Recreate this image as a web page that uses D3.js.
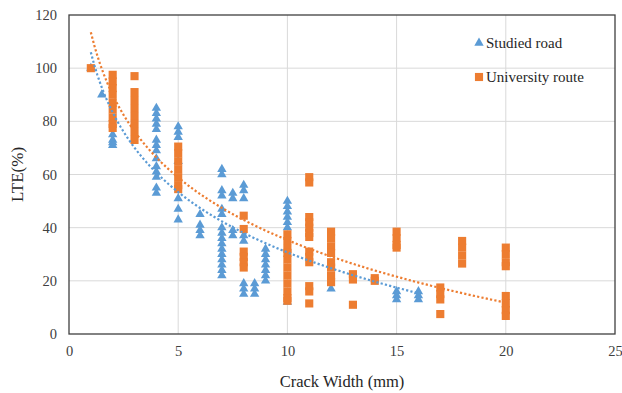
<!DOCTYPE html>
<html>
<head>
<meta charset="utf-8">
<script src="https://cdn.jsdelivr.net/npm/d3@7"></script>
<style>
  html, body { margin: 0; padding: 0; background: #ffffff; }
  svg { display: block; }
</style>
</head>
<body>
<svg id="chart" width="622" height="393"></svg>
<script>
// Load transfer efficiency (LTE, %) against crack width (mm)
const roadX = [
  1, 1.5,
  2, 2, 2, 2,
  4, 4, 4, 4, 4, 4, 4, 4, 4, 4, 4, 4, 4, 4,
  5, 5, 5, 5, 5, 5, 5,
  6, 6, 6, 6,
  7, 7, 7, 7, 7, 7, 7, 7, 7, 7, 7, 7, 7, 7, 7, 7,
  7.5, 7.5, 7.5, 7.5,
  8, 8, 8, 8, 8, 8, 8, 8,
  8.5, 8.5, 8.5,
  9, 9, 9, 9, 9, 9, 9,
  10, 10, 10, 10, 10, 10, 10,
  12,
  15, 15, 15,
  16, 16, 16
];
const roadY = [
  100, 90,
  75, 73, 72, 71,
  85, 83, 81, 79, 77, 73, 71, 69, 66, 63, 61, 59, 55, 53,
  78, 76, 74, 65, 51, 47, 43,
  45, 41, 39, 37,
  62, 60, 54, 52, 47, 45, 40, 38, 36, 34, 32, 30, 28, 26, 24, 22,
  53, 51, 39, 37,
  56, 54, 51, 37, 35, 19, 17, 15,
  19, 17, 15,
  32, 30, 28, 26, 24, 22, 20,
  50, 48, 46, 44, 42, 40, 12,
  17,
  16, 14.5, 13,
  16, 14.5, 13
];

const routeX = [
  1,
  2, 2, 2, 2, 2, 2, 2, 2, 2,
  3, 3, 3, 3, 3, 3, 3, 3,
  5, 5, 5, 5, 5, 5, 5,
  8, 8, 8, 8, 8, 8,
  10, 10, 10, 10, 10, 10, 10, 10, 10, 10, 10,
  11, 11, 11, 11, 11, 11, 11, 11, 11, 11, 11, 11, 11,
  12, 12, 12, 12, 12, 12, 12, 12,
  13, 13, 13,
  14, 14,
  15, 15, 15, 15,
  17, 17, 17, 17,
  18, 18, 18, 18,
  20, 20, 20, 20, 20, 20, 20, 20
];
const routeY = [
  100,
  97.5, 95, 92.5, 90, 87, 84.5, 81.5, 79, 77.5,
  97, 91, 88, 85, 82, 79, 76, 73,
  70.5, 68, 65, 62, 59, 56, 54.5,
  44.5, 39.5, 31, 29, 27, 25,
  37.5, 35, 32, 30.5, 28, 25, 22, 19, 16, 13.5, 12.5,
  59, 57, 44, 42, 40, 38, 36.5, 31, 29, 27, 18, 16, 11.5,
  38.5, 36, 33, 30.5, 27, 25, 22, 19.5,
  22.5, 20.5, 11,
  21, 20,
  38.5, 36, 33.5, 32.5,
  17.5, 15, 13, 7.5,
  35, 32.5, 29.5, 26.5,
  32.5, 30, 27, 25.5, 14.3, 11.5, 9, 6.8
];

// Logarithmic trend lines: y = a - b * ln(x), over [xFrom, xTo]
const roadTrend = [106, 32.7, 1, 16];
const routeTrend = [113.5, 33.95, 1, 20];

const xTicks = [0, 5, 10, 15, 20, 25];
const yTicks = [0, 20, 40, 60, 80, 100, 120];
const seriesNames = ["Studied road", "University route"];
const colors = ["#5B9BD5", "#ED7D31"];

const FONT = "'Liberation Serif', 'Times New Roman', Times, 'DejaVu Serif', serif";

const svg = d3.select("#chart");
const margin = { left: 69, top: 15, right: 7, bottom: 59 };
const W = 622, H = 393;
const x = d3.scaleLinear().domain([0, 25]).range([margin.left, W - margin.right]);
const y = d3.scaleLinear().domain([0, 120]).range([H - margin.bottom, margin.top]);

// gridlines
const grid = svg.append("g");
grid.selectAll("line.h").data(yTicks.slice(1, -1)).join("line")
  .attr("x1", x(0)).attr("x2", x(25))
  .attr("y1", d => y(d)).attr("y2", d => y(d))
  .attr("stroke", "#D9D9D9").attr("stroke-width", 1);
grid.selectAll("line.v").data(xTicks.slice(1, -1)).join("line")
  .attr("y1", y(0)).attr("y2", y(120))
  .attr("x1", d => x(d)).attr("x2", d => x(d))
  .attr("stroke", "#D9D9D9").attr("stroke-width", 1);

// axes (labels only, the frame is drawn separately)
const xAxis = svg.append("g")
  .attr("transform", `translate(0,${y(0)})`)
  .call(d3.axisBottom(x).tickValues(xTicks).tickSize(0).tickPadding(12).tickFormat(d3.format("d")));
const yAxis = svg.append("g")
  .attr("transform", `translate(${x(0)},0)`)
  .call(d3.axisLeft(y).tickValues(yTicks).tickSize(0).tickPadding(12).tickFormat(d3.format("d")));
[xAxis, yAxis].forEach(g => {
  g.attr("font-family", FONT).attr("font-size", 14.5);
  g.select(".domain").remove();
  g.selectAll("text").attr("fill", "#404040");
});

// markers
const tri = d3.symbol().type(d3.symbolTriangle).size(38);
const sq = d3.symbol().type(d3.symbolSquare).size(66);

const roadPts = roadX.map((v, i) => ({ x: v, y: roadY[i] }));
const routePts = routeX.map((v, i) => ({ x: v, y: routeY[i] }));

svg.append("g").selectAll("path").data(roadPts).join("path")
  .attr("d", tri)
  .attr("transform", d => `translate(${x(d.x)},${y(d.y)})`)
  .attr("fill", colors[0]);

svg.append("g").selectAll("path").data(routePts).join("path")
  .attr("d", sq)
  .attr("transform", d => `translate(${x(d.x)},${y(d.y)})`)
  .attr("fill", colors[1]);

// trend lines
function trendPoints(t) {
  const [a, b, x0, x1] = t;
  return d3.range(0, 101).map(i => {
    const xv = x0 + (x1 - x0) * i / 100;
    return [xv, a - b * Math.log(xv)];
  });
}
const line = d3.line().x(d => x(d[0])).y(d => y(d[1]));
[[roadTrend, colors[0]], [routeTrend, colors[1]]].forEach(([t, c]) => {
  svg.append("path")
    .attr("d", line(trendPoints(t)))
    .attr("fill", "none")
    .attr("stroke", c)
    .attr("stroke-width", 2.2)
    .attr("stroke-dasharray", "2.2,2.2");
});

// frame
svg.append("rect")
  .attr("x", x(0)).attr("y", y(120))
  .attr("width", x(25) - x(0)).attr("height", y(0) - y(120))
  .attr("fill", "none").attr("stroke", "#404040").attr("stroke-width", 1.3);

// axis titles
svg.append("text")
  .attr("x", (x(0) + x(25)) / 2).attr("y", 387)
  .attr("text-anchor", "middle")
  .attr("font-family", FONT).attr("font-size", 16.5).attr("fill", "#262626")
  .text("Crack Width (mm)");
svg.append("text")
  .attr("transform", `translate(23,${(y(0) + y(120)) / 2}) rotate(-90)`)
  .attr("text-anchor", "middle")
  .attr("font-family", FONT).attr("font-size", 17).attr("fill", "#262626")
  .text("LTE(%)");

// legend
const legend = svg.append("g");
const legendItems = [
  { name: seriesNames[0], sym: tri, color: colors[0], cy: 43 },
  { name: seriesNames[1], sym: sq, color: colors[1], cy: 77 }
];
legendItems.forEach(it => {
  legend.append("path")
    .attr("d", it.sym)
    .attr("transform", `translate(479,${it.cy})`)
    .attr("fill", it.color);
  legend.append("text")
    .attr("x", 486).attr("y", it.cy + 5)
    .attr("font-family", FONT).attr("font-size", 15).attr("fill", "#262626")
    .text(it.name);
});
</script>
</body>
</html>
